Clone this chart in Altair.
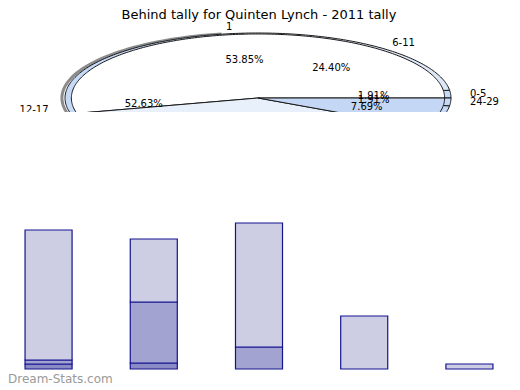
import altair as alt
import numpy as np
import pandas as pd

TITLE = "Behind tally for Quinten Lynch - 2011 tally"
WATERMARK = "Dream-Stats.com"

# back pie (drawn behind)
back_labels = ["0-5", "6-11", "12-17", "18-23", "24-29"]
back_pct = [1.91, 24.40, 52.63, 19.15, 1.91]
back_colors = ["#c6d9f7", "#dde7f8", "#c6d9f7", "#c6d9f7", "#c6d9f7"]

# front pie (drawn on top)
front_labels = ["1", "", ""]
front_pct = [53.85, 38.46, 7.69]
front_colors = ["#ffffff", "#e8f0fc", "#c4d7f5"]

# stacked bars
bar_groups = ["0-5", "6-11", "12-17", "18-23", "24-29"]
bar_dark = [5, 6, 0, 0, 0]
bar_mid = [4, 61, 22, 0, 0]
bar_light = [130, 63, 124, 53, 5]

FONT = "DejaVu Sans"


def pie_frames(name, labels, pct, colors, rx, ry):
    rows, labs = [], []
    start = 0.0
    for i, (l, p, c) in enumerate(zip(labels, pct, colors)):
        span = p / 100 * 360
        n = max(2, int(np.ceil(span)))
        angs = np.radians(np.linspace(start, start + span, n + 1))
        pts = [(0.0, 0.0)] + [(rx * np.cos(a), ry * np.sin(a)) for a in angs]
        for k, (x, y) in enumerate(pts):
            rows.append(dict(slice=f"{name}{i}", k=k, x=x, y=y, fill=c))
        mid = np.radians(start + span / 2)
        labs.append(dict(label=l, pct=f"{p:.2f}%",
                         lx=1.1 * np.cos(mid), ly=1.1 * np.sin(mid),
                         px=0.6 * rx * np.cos(mid), py=0.6 * ry * np.sin(mid),
                         side="left" if np.cos(mid) >= 0 else "right"))
        start += span
    return pd.DataFrame(rows), pd.DataFrame(labs)


back_poly, back_lab = pie_frames("b", back_labels, back_pct, back_colors, 1.0, 1.0)
front_poly, front_lab = pie_frames("f", front_labels, front_pct, front_colors, 0.967, 0.985)
labels_df = pd.concat([back_lab, front_lab], ignore_index=True)

sh_ang = np.radians(np.linspace(100, 262, 80))
shadow_df = pd.DataFrame({"k": np.arange(len(sh_ang)),
                          "x": np.cos(sh_ang) - 0.016,
                          "y": np.sin(sh_ang)})

xs = alt.Scale(domain=[-250 / 193, 250 / 193])
ys = alt.Scale(domain=[-14 / 65, 90 / 65])
X = lambda f: alt.X(f, type="quantitative", scale=xs, axis=None)
Y = lambda f: alt.Y(f, type="quantitative", scale=ys, axis=None)


def poly_layer(df):
    return alt.Chart(df).mark_line(stroke="#1a1a1a", strokeWidth=1, interpolate="linear-closed",
                                   clip=True).encode(
        x=X("x"), y=Y("y"), detail="slice:N", order="k:Q",
        fill=alt.Fill("fill:N", scale=None))


shadow = alt.Chart(shadow_df).mark_line(stroke="#8c8c8c", strokeWidth=3, clip=True).encode(
    x=X("x"), y=Y("y"), order="k:Q")

lab_left = alt.Chart(labels_df).transform_filter(
    "datum.label != '' && datum.side == 'left'").mark_text(
    align="left", baseline="middle", font=FONT, fontSize=10, color="black", clip=True).encode(
    x=X("lx"), y=Y("ly"), text="label:N")
lab_right = alt.Chart(labels_df).transform_filter(
    "datum.label != '' && datum.side == 'right'").mark_text(
    align="right", baseline="middle", font=FONT, fontSize=10, color="black", clip=True).encode(
    x=X("lx"), y=Y("ly"), text="label:N")
pct_text = alt.Chart(labels_df).mark_text(
    align="center", baseline="middle", font=FONT, fontSize=10, color="black", clip=True).encode(
    x=X("px"), y=Y("py"), text="pct:N")
title_text = alt.Chart(pd.DataFrame({"t": [TITLE]})).mark_text(
    align="center", baseline="alphabetic", font=FONT, fontSize=13, color="black").encode(
    x=alt.value(251), y=alt.value(11), text="t:N")

top = alt.layer(shadow, poly_layer(back_poly), poly_layer(front_poly),
                pct_text, lab_left, lab_right, title_text).properties(width=500, height=104)

# bars
layers = ["dark", "mid", "light"]
layer_colors = ["#8a8ac4", "#a3a3d1", "#cdcde4"]
brows = []
for g, d, m, l in zip(bar_groups, bar_dark, bar_mid, bar_light):
    for j, (name, v) in enumerate(zip(layers, [d, m, l])):
        if v > 0:
            brows.append(dict(group=g, layer=name, lo=j, value=v))
bar_df = pd.DataFrame(brows)

bars = alt.Chart(bar_df).mark_bar(stroke="#14148f", strokeWidth=1.2).encode(
    x=alt.X("group:N", sort=bar_groups, axis=None,
            scale=alt.Scale(paddingInner=0.553, paddingOuter=0.162)),
    y=alt.Y("value:Q", stack="zero", axis=None, scale=alt.Scale(domain=[0, 257])),
    color=alt.Color("layer:N", scale=alt.Scale(domain=layers, range=layer_colors), legend=None),
    order=alt.Order("lo:Q"))
wm = alt.Chart(pd.DataFrame({"t": [WATERMARK]})).mark_text(
    align="left", baseline="alphabetic", font=FONT, fontSize=12, color="#9a9a9a").encode(
    x=alt.value(0), y=alt.value(271), text="t:N")
bottom = alt.layer(bars, wm).properties(width=502, height=257)

chart = alt.vconcat(top, bottom, spacing=0).properties(padding=0).configure_view(stroke=None)

chart.save("out.html", embed_options={"renderer": "svg", "actions": False})
